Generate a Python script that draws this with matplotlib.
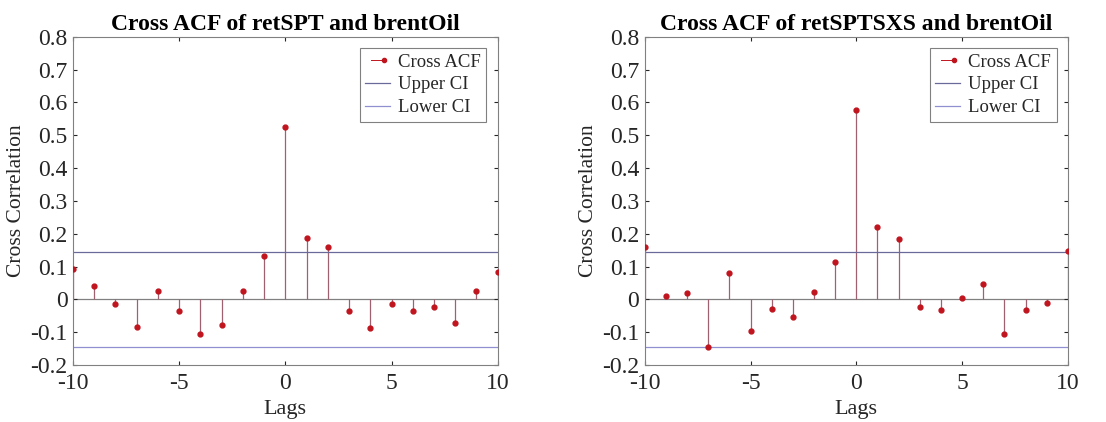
import matplotlib.pyplot as plt
from matplotlib.lines import Line2D
from matplotlib.legend_handler import HandlerLine2D
import numpy as np

# Lags and cross-correlation values
lags = np.arange(-10, 11)
acf_spt = [0.092, 0.041, -0.013, -0.084, 0.025, -0.034, -0.107, -0.079, 0.025, 0.131,
           0.524, 0.186, 0.159, -0.034, -0.087, -0.013, -0.035, -0.022, -0.072, 0.026, 0.083]
acf_sptsxs = [0.160, 0.011, 0.019, -0.145, 0.079, -0.097, -0.030, -0.055, 0.023, 0.114,
              0.577, 0.219, 0.185, -0.022, -0.033, 0.003, 0.048, -0.105, -0.032, -0.011, 0.146]
ci_upper = 0.145
ci_lower = -0.145
titles = ["Cross ACF of retSPT and brentOil", "Cross ACF of retSPTSXS and brentOil"]

plt.rcParams['font.family'] = ['Liberation Serif', 'DejaVu Serif']
plt.rcParams['axes.unicode_minus'] = False

stem_col = '#a06070'
dot_col = '#c0141e'
up_col = '#6a6a9a'
lo_col = '#9090d0'


# legend entry: short line with the dot at its right end (like MATLAB stem)
class StemHandler(HandlerLine2D):
    def create_artists(self, legend, orig_handle, xdescent, ydescent, width, height, fontsize, trans):
        artists = super().create_artists(legend, orig_handle, xdescent, ydescent,
                                         width, height, fontsize, trans)
        for a in artists:
            n = len(a.get_xdata())
            a.set_markevery([n - 1])
        return artists


fig = plt.figure(figsize=(11.06, 4.22), dpi=100)
ax1 = fig.add_axes([0.066, 0.135, 0.384, 0.778])
ax2 = fig.add_axes([0.583, 0.135, 0.3825, 0.778])

for ax, vals, title in zip([ax1, ax2], [acf_spt, acf_sptsxs], titles):
    ax.axhline(0, color='#808080', lw=0.9, zorder=1)
    ml, sl, bl = ax.stem(lags, vals, basefmt=' ')
    plt.setp(sl, color=stem_col, lw=0.9)
    plt.setp(ml, color=dot_col, markersize=3.5, zorder=3)
    ax.axhline(ci_upper, color=up_col, lw=0.9)
    ax.axhline(ci_lower, color=lo_col, lw=0.9)

    ax.set_xlim(-10, 10)
    ax.set_ylim(-0.2, 0.8)
    ax.set_xticks([-10, -5, 0, 5, 10])
    ax.set_yticks(np.arange(-0.2, 0.81, 0.1))
    ax.set_yticklabels(['-0.2', '-0.1', '0', '0.1', '0.2', '0.3', '0.4', '0.5', '0.6', '0.7', '0.8'])
    ax.tick_params(direction='in', length=3, labelsize=17, colors='#262626', top=True, right=True)
    ax.tick_params(axis='x', pad=6)
    ax.tick_params(axis='y', pad=4)
    for s in ax.spines.values():
        s.set_color('#808080')
        s.set_linewidth(0.8)
    ax.set_xlabel('Lags', fontsize=16, labelpad=4, color='#262626')
    ax.set_ylabel('Cross Correlation', fontsize=15.5, labelpad=3, color='#262626')
    ax.set_title(title, fontsize=17, fontweight='bold', pad=5)

    acf_handle = Line2D([], [], color=dot_col, lw=0.7, marker='o', markersize=3)
    handles = [acf_handle,
               Line2D([], [], color=up_col, lw=0.9),
               Line2D([], [], color=lo_col, lw=0.9)]
    leg = ax.legend(handles, ['Cross ACF', 'Upper CI', 'Lower CI'], loc='upper right', fontsize=13.5,
                    fancybox=False, framealpha=1, edgecolor='#808080',
                    handlelength=1.3, handletextpad=0.45, borderpad=0.3, labelspacing=0.3,
                    borderaxespad=0.6, handler_map={acf_handle: StemHandler(numpoints=2)})
    leg.get_frame().set_linewidth(0.8)
    for t in leg.get_texts():
        t.set_color('#262626')

fig.savefig('out.png', dpi=100)
